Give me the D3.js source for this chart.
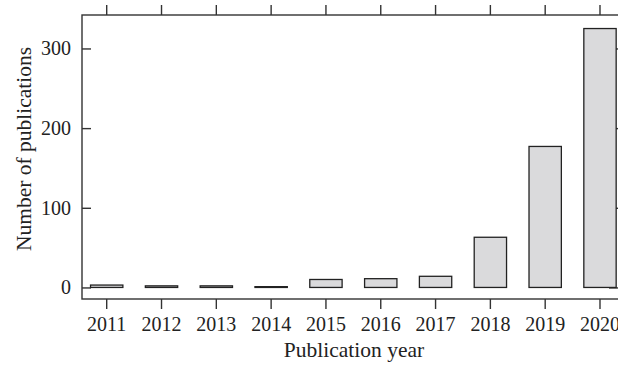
<!DOCTYPE html>
<html>
<head>
<meta charset="utf-8">
<script src="https://cdn.jsdelivr.net/npm/d3@7"></script>
<style>
  body { margin: 0; background: #fff; }
  svg text { font-family: "Liberation Serif", "DejaVu Serif", serif; fill: #222; }
</style>
</head>
<body>
<div id="container"></div>
<script>
// publications per year
let years = ["2011", "2012", "2013", "2014", "2015", "2016", "2017", "2018", "2019", "2020"];
let counts = [3, 2, 2, 1, 10, 11, 14, 63, 177, 325];
let yTicks = [0, 100, 200, 300];

let w = 618;
let h = 366;

// plot frame
let frameLeft = 82;
let frameRight = 619;
let frameTop = 15;
let frameBottom = 299;

let viz = d3.select("#container")
  .append("svg")
    .attr("width", w)
    .attr("height", h)
;

let xScale = d3.scaleBand()
  .domain(years)
  .range([79.3, 627.4])
  .paddingInner(0.41)
  .paddingOuter(0.205);

let yScale = d3.scaleLinear().domain([-14.5, 342]).range([frameBottom, frameTop]);

let axisColor = "#333";

// frame
viz.append("rect")
  .attr("x", frameLeft)
  .attr("y", frameTop)
  .attr("width", frameRight - frameLeft)
  .attr("height", frameBottom - frameTop)
  .attr("fill", "none")
  .attr("stroke", axisColor)
  .attr("stroke-width", 1.4);

// bottom axis, ticks outward
let xAxisGroup = viz.append("g")
  .attr("transform", "translate(0," + frameBottom + ")")
  .call(d3.axisBottom(xScale).tickSize(10).tickSizeOuter(0).tickPadding(8));

// top axis, ticks outward, no labels
let xTopGroup = viz.append("g")
  .attr("transform", "translate(0," + frameTop + ")")
  .call(d3.axisTop(xScale).tickSize(10).tickSizeOuter(0).tickFormat(""));

// left axis, ticks inward
let yAxisGroup = viz.append("g")
  .attr("transform", "translate(" + frameLeft + ",0)")
  .call(d3.axisLeft(yScale).tickValues(yTicks).tickSize(-9).tickSizeOuter(0).tickPadding(11));

// right axis, ticks inward
let yRightGroup = viz.append("g")
  .attr("transform", "translate(" + frameRight + ",0)")
  .call(d3.axisRight(yScale).tickValues(yTicks).tickSize(-10).tickSizeOuter(0).tickFormat(""));

[xAxisGroup, xTopGroup, yAxisGroup, yRightGroup].forEach(function(g){
  g.select(".domain").remove();
  g.selectAll(".tick line").attr("stroke", axisColor).attr("stroke-width", 1.4);
  g.selectAll(".tick text")
    .attr("font-family", "Liberation Serif")
    .attr("font-size", "20px")
    .attr("fill", "#222");
});

xAxisGroup.selectAll(".tick text").attr("dy", "0.72em");

// bars
viz.append("g").selectAll("rect")
  .data(counts)
  .enter()
  .append("rect")
    .attr("x", function(d, i){ return xScale(years[i]); })
    .attr("y", function(d){ return yScale(d); })
    .attr("width", xScale.bandwidth())
    .attr("height", function(d){ return yScale(0) - yScale(d); })
    .attr("fill", "#dadadc")
    .attr("stroke", "#222")
    .attr("stroke-width", 1.3)
;

// axis titles
viz.append("text")
  .text("Publication year")
  .attr("x", 354)
  .attr("y", 357)
  .attr("text-anchor", "middle")
  .attr("font-size", "21.5px");

viz.append("text")
  .text("Number of publications")
  .attr("transform", "translate(31,149) rotate(-90)")
  .attr("text-anchor", "middle")
  .attr("font-size", "21.5px");
</script>
</body>
</html>
